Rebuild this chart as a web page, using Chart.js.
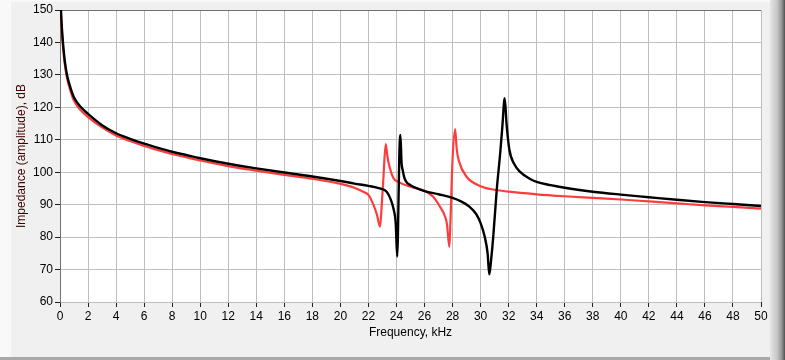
<!DOCTYPE html>
<html>
<head>
<meta charset="utf-8">
<script src="https://cdn.jsdelivr.net/npm/chart.js@4"></script>
<style>
  html, body { margin: 0; padding: 0; background: #f0f0f0; }
  canvas { display: block; }
</style>
</head>
<body>
<canvas id="chart" width="785" height="360"></canvas>
<script>
// Black trace: frequency (kHz) and impedance (dB)
const blackFreq = [0.05, 0.1, 0.15, 0.25, 0.35, 0.5, 0.75, 1.0, 1.5, 2, 3, 4, 5, 6, 7, 8, 9, 10, 12, 14, 16, 18, 20, 21, 22, 22.8, 23.3, 23.6, 23.8, 23.95, 24.05, 24.1, 24.2, 24.28, 24.36, 24.45, 24.55, 24.7, 25, 26, 27, 28, 28.6, 29.2, 29.7, 30, 30.3, 30.5, 30.62, 30.75, 30.9, 31.15, 31.4, 31.55, 31.72, 31.85, 32.05, 32.4, 32.8, 33.5, 34, 35, 36, 38, 40, 42, 44, 46, 48, 50];
const blackImp  = [152, 147, 143.5, 138, 134, 130, 126, 123, 120, 118, 114.5, 112, 110.3, 108.8, 107.5, 106.3, 105.3, 104.3, 102.6, 101.2, 99.9, 98.7, 97.3, 96.5, 95.8, 95, 94, 91.5, 88.5, 84, 74, 80, 105, 111.5, 103, 100.5, 98.5, 97, 96, 94.2, 93.2, 92.1, 91, 89.4, 87, 84.3, 80, 75, 68.5, 73, 80, 94.5, 106, 114, 122.8, 115, 107, 102.5, 100.2, 98, 97, 96, 95.2, 94, 93.1, 92.3, 91.5, 90.8, 90.2, 89.6];

// Red trace
const redFreq = [0.05, 0.1, 0.15, 0.25, 0.35, 0.5, 0.75, 1, 1.5, 2, 3, 4, 5, 6, 7, 8, 9, 10, 12, 14, 16, 18, 20, 21, 21.7, 22, 22.35, 22.6, 22.83, 22.95, 23.06, 23.23, 23.35, 23.45, 23.77, 24.1, 25, 26, 26.6, 27.1, 27.45, 27.6, 27.77, 27.85, 28, 28.18, 28.3, 28.45, 29, 30, 31, 32, 34, 36, 38, 40, 42, 44, 46, 48, 50];
const redImp  = [150.5, 145.5, 142, 137, 133, 129, 125, 122, 119, 117, 113.8, 111.3, 109.6, 108.1, 106.8, 105.6, 104.6, 103.6, 101.9, 100.5, 99.2, 98, 96.4, 95.2, 93.8, 93, 90, 87, 83.2, 90, 97.6, 108.7, 105, 102.7, 98.3, 97.1, 95.5, 94.3, 92.5, 89.4, 86.5, 84, 77, 85, 104, 113.3, 107, 103.5, 98.6, 95.7, 94.6, 94, 93.2, 92.6, 92.1, 91.6, 91, 90.4, 89.8, 89.3, 88.8];

const xMin = 0, xMax = 50, xStep = 2;
const yMin = 60, yMax = 150, yStep = 10;

const xTitle = 'Frequency, kHz';
const yTitle = 'Impedance (amplitude), dB';

const fontFamily = "'Liberation Sans', Arial, sans-serif";

function toPoints(xs, ys) {
    return xs.map((x, i) => ({ x: x, y: ys[i] }));
}

// Panel frame, white plot area and dark top edge
const framePlugin = {
    id: 'frame',
    beforeDraw(chart) {
        const ctx = chart.ctx;
        const { left, top, right, bottom } = chart.chartArea;
        ctx.save();
        ctx.fillStyle = '#f0f0f0';
        ctx.fillRect(0, 0, chart.width, chart.height);
        ctx.fillStyle = '#f9f9f9';
        ctx.fillRect(0, 0, 11, chart.height);
        ctx.fillRect(0, 0, chart.width, 2);
        // right shadow
        const g = ctx.createLinearGradient(770, 0, 785, 0);
        g.addColorStop(0, '#e6e6e6');
        g.addColorStop(0.5, '#c4c4c4');
        g.addColorStop(0.8, '#909090');
        g.addColorStop(1, '#505050');
        ctx.fillStyle = g;
        ctx.fillRect(770, 0, 15, chart.height);
        ctx.fillStyle = '#a8a8a8';
        ctx.fillRect(0, 357, 770, 3);
        ctx.fillStyle = '#ffffff';
        ctx.fillRect(left, top, right - left, bottom - top);
        ctx.restore();
    },
    beforeDatasetsDraw(chart) {
        const ctx = chart.ctx;
        const { left, top, right } = chart.chartArea;
        ctx.save();
        ctx.strokeStyle = '#707070';
        ctx.lineWidth = 1;
        ctx.beginPath();
        ctx.moveTo(left, top + 0.5);
        ctx.lineTo(right, top + 0.5);
        ctx.stroke();
        ctx.restore();
    }
};

new Chart(document.getElementById('chart').getContext('2d'), {
    type: 'line',
    data: {
        datasets: [
            {
                label: 'black',
                data: toPoints(blackFreq, blackImp),
                borderColor: '#000000',
                borderWidth: 2.4,
                pointRadius: 0,
                cubicInterpolationMode: 'monotone'
            },
            {
                label: 'red',
                data: toPoints(redFreq, redImp),
                borderColor: '#ff3c3c',
                borderWidth: 2.2,
                pointRadius: 0,
                cubicInterpolationMode: 'monotone'
            }
        ]
    },
    options: {
        responsive: false,
        devicePixelRatio: 1,
        animation: false,
        layout: { padding: { left: 0, top: 10, right: 24, bottom: 0 } },
        plugins: {
            legend: { display: false },
            tooltip: { enabled: false }
        },
        scales: {
            x: {
                type: 'linear',
                min: xMin,
                max: xMax,
                afterFit(scale) { scale.height = 58; },
                ticks: {
                    stepSize: xStep,
                    color: '#000000',
                    padding: 2,
                    maxRotation: 0,
                    autoSkip: false,
                    font: { family: fontFamily, size: 12 }
                },
                grid: {
                    color: '#bebebe',
                    lineWidth: 1,
                    tickColor: '#202020',
                    tickLength: 5
                },
                border: { display: false },
                title: {
                    display: true,
                    text: xTitle,
                    color: '#000000',
                    padding: { top: 0, bottom: 20 },
                    font: { family: fontFamily, size: 12 }
                }
            },
            y: {
                type: 'linear',
                min: yMin,
                max: yMax,
                afterFit(scale) { scale.width = 60; },
                ticks: {
                    stepSize: yStep,
                    color: '#000000',
                    padding: 2,
                    font: { family: fontFamily, size: 12 }
                },
                grid: {
                    color: '#bebebe',
                    lineWidth: 1,
                    tickColor: '#202020',
                    tickLength: 5
                },
                border: { display: true, color: '#707070', width: 1 },
                title: {
                    display: true,
                    text: yTitle,
                    color: '#400000',
                    padding: { top: 14, bottom: 0 },
                    font: { family: fontFamily, size: 12 }
                }
            }
        }
    },
    plugins: [framePlugin]
});
</script>
</body>
</html>
